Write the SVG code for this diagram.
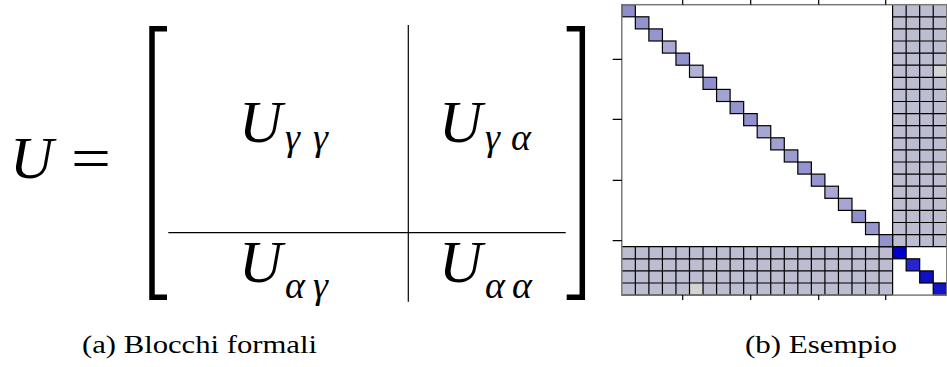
<svg xmlns="http://www.w3.org/2000/svg" width="947" height="367" viewBox="0 0 947 367">
<style>
.m{font-family:"Liberation Serif","Times New Roman",Times,Tinos,"Noto Serif","DejaVu Serif",FreeSerif,serif;font-style:italic;fill:#000}
.u{font-size:60px}
.s{font-size:38px}
.eq{font-family:"Liberation Serif","Times New Roman",Times,Tinos,"Noto Serif","DejaVu Serif",FreeSerif,serif;font-size:60px;fill:#000}
.cap{font-family:"Liberation Serif","Times New Roman",Times,Tinos,"Noto Serif","DejaVu Serif",FreeSerif,serif;font-size:26px;fill:#000}
.br{fill:none;stroke:#000;stroke-width:5.5;stroke-linecap:butt;stroke-linejoin:miter}
.rule{stroke:#000;stroke-width:1.2}
.off{fill:#bdbdd1}
.grid{stroke:#000;stroke-width:1.2;fill:none}
.d{stroke:#000;stroke-width:1.2}
.tick{stroke:#000;stroke-width:1.2}
</style>
<rect width="947" height="367" fill="#fff"/>

<g id="formula">
  <text class="m u" x="10" y="178">U</text>
  <text class="eq" x="71" y="178" textLength="40" lengthAdjust="spacingAndGlyphs">=</text>
  <path class="br" d="M167,28.8 H152 V297.2 H167"/>
  <path class="br" d="M566.7,28.8 H582.3 V297.2 H566.7"/>
  <line class="rule" x1="408.3" y1="25" x2="408.3" y2="301.7"/>
  <line class="rule" x1="168.3" y1="232.7" x2="565.7" y2="232.7"/>
</g>

<g id="U_gg">
  <text class="m u" x="239" y="142">U</text>
  <text class="m s" x="285" y="150">γ</text>
  <text class="m s" x="313" y="150">γ</text>
</g>
<g id="U_ga">
  <text class="m u" x="439" y="142">U</text>
  <text class="m s" x="485" y="150">γ</text>
  <text class="m s" x="511" y="150">α</text>
</g>
<g id="U_ag">
  <text class="m u" x="239" y="282">U</text>
  <text class="m s" x="285" y="298">α</text>
  <text class="m s" x="313" y="298">γ</text>
</g>
<g id="U_aa">
  <text class="m u" x="439" y="282">U</text>
  <text class="m s" x="485" y="298">α</text>
  <text class="m s" x="512" y="298">α</text>
</g>

<g id="matrix">
  <rect x="621.8" y="4.7" width="325" height="290.4" fill="#fff"/>
  <rect class="off" x="892.6" y="4.7" width="54.16" height="242"/>
  <rect class="off" x="621.8" y="246.7" width="270.8" height="48.4"/>
  <rect x="933.22" y="65.2" width="13.54" height="12.1" fill="#d4d4d4"/>
  <rect x="689.5" y="283.0" width="13.54" height="12.1" fill="#d4d4d4"/>
  <path class="grid" d="M892.6,4.7V246.7M906.14,4.7V246.7M919.68,4.7V246.7M933.22,4.7V246.7M946.76,4.7V246.7
  M892.6,16.8H946.76M892.6,28.9H946.76M892.6,41H946.76M892.6,53.1H946.76M892.6,65.2H946.76M892.6,77.3H946.76M892.6,89.4H946.76M892.6,101.5H946.76M892.6,113.6H946.76M892.6,125.7H946.76M892.6,137.8H946.76M892.6,149.9H946.76M892.6,162H946.76M892.6,174.1H946.76M892.6,186.2H946.76M892.6,198.3H946.76M892.6,210.4H946.76M892.6,222.5H946.76M892.6,234.6H946.76M892.6,246.7H946.76"/>
  <path class="grid" d="M621.8,246.7H892.6M621.8,258.8H892.6M621.8,270.9H892.6M621.8,283H892.6M621.8,295.1H892.6
  M635.34,246.7V295.1M648.88,246.7V295.1M662.42,246.7V295.1M675.96,246.7V295.1M689.5,246.7V295.1M703.04,246.7V295.1M716.58,246.7V295.1M730.12,246.7V295.1M743.66,246.7V295.1M757.2,246.7V295.1M770.74,246.7V295.1M784.28,246.7V295.1M797.82,246.7V295.1M811.36,246.7V295.1M824.9,246.7V295.1M838.44,246.7V295.1M851.98,246.7V295.1M865.52,246.7V295.1M879.06,246.7V295.1M892.6,246.7V295.1"/>
  <g class="d">
    <rect x="621.8" y="4.7" width="13.54" height="12.1" fill="#8e8ecc"/>
    <rect x="635.34" y="16.8" width="13.54" height="12.1" fill="#9393ce"/>
    <rect x="648.88" y="28.9" width="13.54" height="12.1" fill="#9595cf"/>
    <rect x="662.42" y="41" width="13.54" height="12.1" fill="#a9a9d4"/>
    <rect x="675.96" y="53.1" width="13.54" height="12.1" fill="#9292ce"/>
    <rect x="689.5" y="65.2" width="13.54" height="12.1" fill="#b2b2d4"/>
    <rect x="703.04" y="77.3" width="13.54" height="12.1" fill="#8f8fcd"/>
    <rect x="716.58" y="89.4" width="13.54" height="12.1" fill="#a3a3d2"/>
    <rect x="730.12" y="101.5" width="13.54" height="12.1" fill="#9494cf"/>
    <rect x="743.66" y="113.6" width="13.54" height="12.1" fill="#9191ce"/>
    <rect x="757.2" y="125.7" width="13.54" height="12.1" fill="#a6a6d3"/>
    <rect x="770.74" y="137.8" width="13.54" height="12.1" fill="#a0a0d1"/>
    <rect x="784.28" y="149.9" width="13.54" height="12.1" fill="#9b9bd0"/>
    <rect x="797.82" y="162" width="13.54" height="12.1" fill="#9494cf"/>
    <rect x="811.36" y="174.1" width="13.54" height="12.1" fill="#9595cf"/>
    <rect x="824.9" y="186.2" width="13.54" height="12.1" fill="#a9a9d4"/>
    <rect x="838.44" y="198.3" width="13.54" height="12.1" fill="#a6a6d3"/>
    <rect x="851.98" y="210.4" width="13.54" height="12.1" fill="#8f8fcd"/>
    <rect x="865.52" y="222.5" width="13.54" height="12.1" fill="#9797cf"/>
    <rect x="879.06" y="234.6" width="13.54" height="12.1" fill="#9292ce"/>
    <rect x="892.6" y="246.7" width="13.54" height="12.1" fill="#0000cc"/>
    <rect x="906.14" y="258.8" width="13.54" height="12.1" fill="#2626cc"/>
    <rect x="919.68" y="270.9" width="13.54" height="12.1" fill="#0f0fc4"/>
    <rect x="933.22" y="283" width="13.54" height="12.1" fill="#1414c8"/>
  </g>
  <rect x="621.8" y="4.7" width="325" height="290.4" fill="none" stroke="#7a7a7a" stroke-width="1.5"/>
  <path class="tick" d="M682.7,0V4.7M750.7,0V4.7M818.7,0V4.7M885.7,0V4.7M682.7,295.1V300M750.7,295.1V300M818.7,295.1V300M885.7,295.1V300M612.7,59.3H621.8M612.7,119.3H621.8M612.7,180.3H621.8M612.7,240.7H621.8"/>
</g>

<g id="captions">
  <text class="cap" x="82" y="353" textLength="235" lengthAdjust="spacingAndGlyphs">(a) Blocchi formali</text>
  <text class="cap" x="745" y="353" textLength="152" lengthAdjust="spacingAndGlyphs">(b) Esempio</text>
</g>
</svg>
